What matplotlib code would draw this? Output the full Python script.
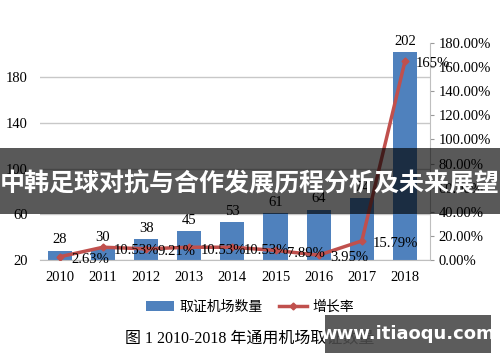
import matplotlib
matplotlib.use("Agg")
import matplotlib.pyplot as plt
from matplotlib.patches import Rectangle, Patch
from matplotlib.lines import Line2D

plt.rcParams['font.family'] = ['Liberation Serif', 'Noto Sans CJK SC', 'DejaVu Sans']

years = ['2010', '2011', '2012', '2013', '2014', '2015', '2016', '2017', '2018']
airports = [28, 30, 38, 45, 53, 61, 64, 74, 202]
growth = [2.63, 10.53, 9.21, 10.53, 10.53, 7.89, 3.95, 15.79, 165]
growth_labels = ['2.63%', '10.53%', '9.21%', '10.53%', '10.53%', '7.89%', '3.95%', '15.79%', '165%']
left_ticks = [20, 60, 100, 140, 180]
right_ticks = [0, 20, 40, 60, 80, 100, 120, 140, 160, 180]

bar_color = '#4f81bd'
line_color = '#c0504d'

fig = plt.figure(figsize=(5, 3.62), dpi=100)
ax = fig.add_axes([0.08, 0.282, 0.78, 0.599])
ax2 = ax.twinx()

x = list(range(len(years)))
ax.bar(x, [v - 20 for v in airports], bottom=20, width=0.56, color=bar_color, zorder=2)
for xi, v in zip(x, airports):
    ax.text(xi, v + 4, str(v), ha='center', va='bottom', fontsize=10.5)

ax.set_ylim(20, 210)
ax.set_yticks(left_ticks)
ax.set_xlim(-0.46, 8.58)
ax.set_xticks(x)
ax.set_xticklabels(years, fontsize=10.5)
ax.tick_params(axis='y', length=0, pad=9, labelsize=10.5)
ax.tick_params(axis='x', length=0, pad=8)
ax.grid(axis='y', color='#c8c8c8', linewidth=1, zorder=0)
ax.set_axisbelow(True)
for s in ['left', 'top', 'right']:
    ax.spines[s].set_visible(False)
ax.spines['bottom'].set_color('#bfbfbf')

ax2.plot(x, growth, color=line_color, linewidth=2.5, marker='D', markersize=3.5, zorder=3)
for xi, g, lab in zip(x, growth, growth_labels):
    ax2.annotate(lab, (xi, g), xytext=(8, -2), textcoords='offset points',
                 ha='left', va='center', fontsize=10.5)
ax2.set_ylim(0, 180)
ax2.set_yticks(right_ticks)
ax2.set_yticklabels([f'{t:.2f}%' for t in right_ticks])
ax2.tick_params(axis='y', length=3, pad=3, labelsize=10.5, color='#999999')
for s in ['left', 'top', 'bottom']:
    ax2.spines[s].set_visible(False)
ax2.spines['right'].set_color('#bfbfbf')

handles = [Patch(facecolor=bar_color), Line2D([0], [0], color=line_color, linewidth=2.5, marker='D', markersize=3.5)]
fig.legend(handles, ['取证机场数量', '增长率'], loc='center', bbox_to_anchor=(0.5, 0.152), ncol=2,
           frameon=False, fontsize=10, handlelength=2.0, columnspacing=1.2, handletextpad=0.4)

fig.text(0.5, 0.066, '图 1 2010-2018 年通用机场取证数量', ha='center', va='center', fontsize=11.5)

# overlay banner
fig.patches.append(Rectangle((0, 0.409), 1, 0.182, transform=fig.transFigure,
                             facecolor='black', alpha=0.65, zorder=10))
fig.text(0.5, 0.49, '中韩足球对抗与合作发展历程分析及未来展望', ha='center', va='center',
         fontsize=18, color='white', fontweight='bold', family=['Noto Sans CJK SC'], zorder=11)

# watermark
fig.patches.append(Rectangle((0.65, 0.025), 0.332, 0.105, transform=fig.transFigure,
                             facecolor='#4a4a4a', alpha=0.9, zorder=10))
fig.text(0.816, 0.077, 'www.itiaoqu.com', ha='center', va='center', fontsize=13,
         color='white', fontweight='bold', family=['DejaVu Sans'], zorder=11)

fig.savefig('out.png', dpi=100)
